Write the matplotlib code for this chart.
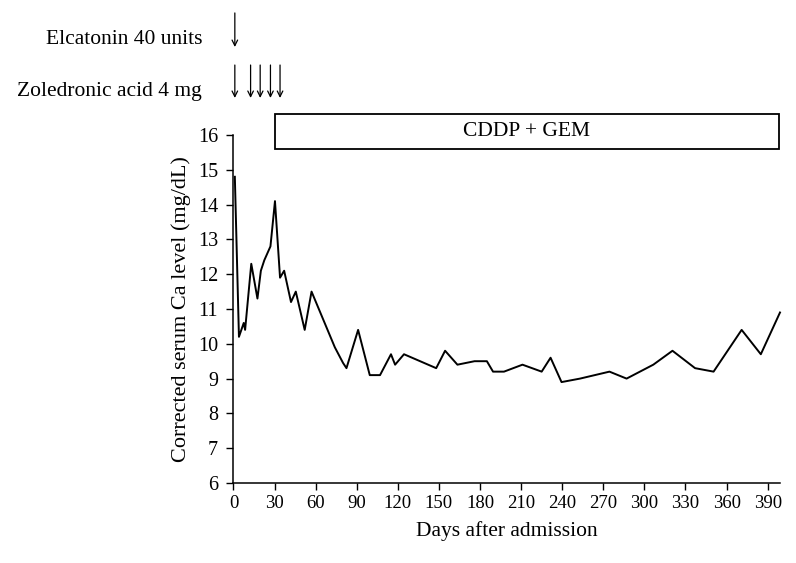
import matplotlib
matplotlib.use("Agg")
import matplotlib.pyplot as plt
from matplotlib import transforms
from matplotlib.patches import Rectangle

days = [1, 4, 7.5, 8.5, 13, 17.5, 20, 22.5, 27, 30.3, 34, 37, 42, 45.5, 52, 57,
        65.5, 74, 80, 82.5, 91, 99.5, 107, 115, 118, 124.5, 148, 154.5, 163.5,
        176, 185, 189.5, 197.5, 211, 225, 231.5, 239.5, 253, 274.5, 287, 306.5,
        320.5, 337, 350.5, 371, 385, 399]
ca = [14.8, 10.2, 10.6, 10.4, 12.3, 11.3, 12.1, 12.4, 12.8, 14.1, 11.9, 12.1, 11.2,
      11.5, 10.4, 11.5, 10.7, 9.9, 9.45, 9.3, 10.4, 9.1, 9.1, 9.7, 9.4, 9.7, 9.3,
      9.8, 9.4, 9.5, 9.5, 9.2, 9.2, 9.4, 9.2, 9.6, 8.9, 9.0, 9.2, 9.0, 9.4, 9.8,
      9.3, 9.2, 10.4, 9.7, 10.9]

x_ticks = list(range(0, 391, 30))
y_ticks = list(range(6, 17))
elcatonin_days = [1]
zoledronic_days = [1, 12.5, 19.5, 27, 34]
chemo_start, chemo_end = 30, 398
chemo_label = "CDDP + GEM"

plt.rcParams['font.family'] = ['Liberation Serif', 'DejaVu Serif']

fig = plt.figure(figsize=(7.96, 5.63), dpi=100)
ax = fig.add_axes([0.2933, 0.1421, 0.9799 - 0.2933, 0.7602 - 0.1421])

ax.plot(days, ca, color='black', linewidth=1.4, clip_on=False)
ax.set_xlim(0, 399)
ax.set_ylim(6, 16)
ax.set_xticks(x_ticks)
ax.set_yticks(y_ticks)
ax.tick_params(axis='both', direction='out', length=5, width=1, colors='black')
ax.tick_params(axis='x', labelsize=13.5, pad=4)
ax.tick_params(axis='y', labelsize=14.5, pad=6)
for s in ['top', 'right']:
    ax.spines[s].set_visible(False)
for s in ['left', 'bottom']:
    ax.spines[s].set_linewidth(1.1)

ax.set_xlabel("Days after admission", fontsize=15.5, labelpad=6)
ax.set_ylabel("Corrected serum Ca level (mg/dL)", fontsize=16, labelpad=5)

# Chemotherapy box
ylo, yhi = 15.59, 16.6
rect = Rectangle((chemo_start, ylo), chemo_end - chemo_start, yhi - ylo,
                 fill=False, edgecolor='black', linewidth=1.3, clip_on=False)
ax.add_patch(rect)
ax.text((chemo_start + chemo_end) / 2, (ylo + yhi) / 2, chemo_label,
        ha='center', va='center', fontsize=15.5, clip_on=False)

# Arrows
blend = transforms.blended_transform_factory(ax.transData, fig.transFigure)
for d in elcatonin_days:
    ax.annotate('', xy=(d, 0.9165), xytext=(d, 0.977), xycoords=blend, textcoords=blend,
                arrowprops=dict(arrowstyle='->', color='black', lw=0.9,
                                shrinkA=0, shrinkB=0, mutation_scale=10),
                annotation_clip=False)
for d in zoledronic_days:
    ax.annotate('', xy=(d, 0.826), xytext=(d, 0.8845), xycoords=blend, textcoords=blend,
                arrowprops=dict(arrowstyle='->', color='black', lw=0.9,
                                shrinkA=0, shrinkB=0, mutation_scale=10),
                annotation_clip=False)

fig.text(0.2538, 0.929, "Elcatonin 40 units", ha='right', va='center', fontsize=15.5)
fig.text(0.2538, 0.838, "Zoledronic acid 4 mg", ha='right', va='center', fontsize=15.5)

fig.savefig("out.png", dpi=100)
